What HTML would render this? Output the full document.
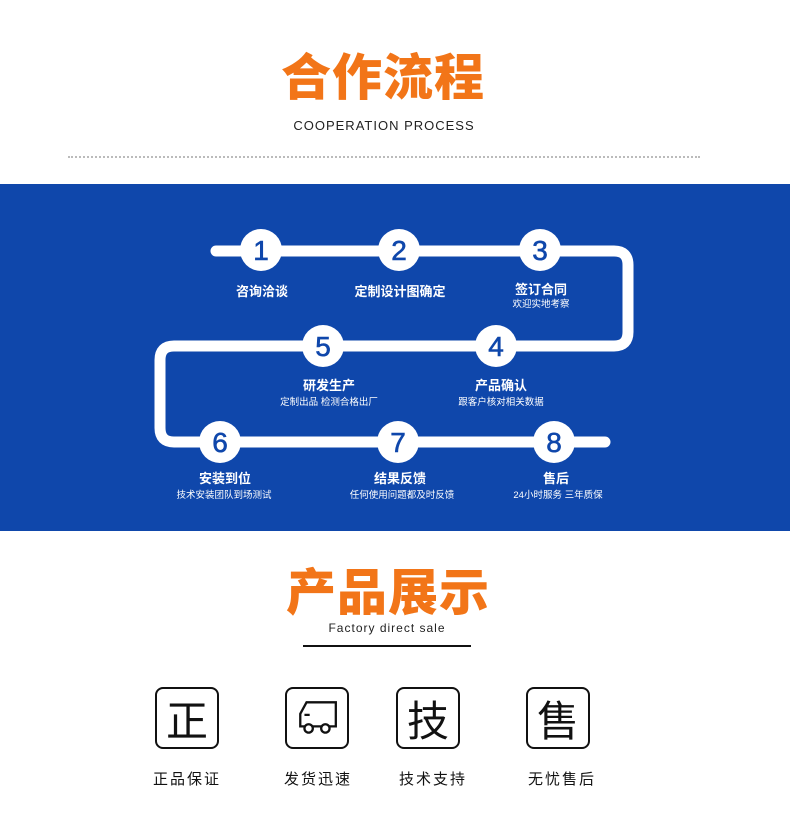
<!DOCTYPE html>
<html><head><meta charset="utf-8"><style>
body{margin:0;width:790px;height:829px;background:#fff;position:relative;overflow:hidden;font-family:"Liberation Sans","Noto Sans CJK SC",sans-serif}
.a{position:absolute;white-space:nowrap}
.c{transform:translateX(-50%)}
.t{font-size:50px;font-weight:900;color:#f27518;letter-spacing:1px}
.lab{color:#fff;font-size:13px;font-weight:bold}
.sub{color:#fff;font-size:9.5px}
.box{position:absolute;width:64px;height:62px;border:2.5px solid #111;border-radius:8px;box-sizing:border-box;top:687px;display:flex;align-items:center;justify-content:center;font-size:42px;color:#111}
.bl{font-size:15px;color:#111;letter-spacing:2px;top:768px}
</style></head><body>
<div class="a c t" style="left:383px;top:38px">合作流程</div>
<div class="a c" style="left:384px;top:118px;font-size:13px;letter-spacing:1px;color:#222">COOPERATION PROCESS</div>
<div class="a" style="left:68px;top:156px;width:632px;border-top:2px dotted #bbb"></div>
<div class="a" style="left:0;top:184px;width:790px;height:347px;background:#0f47ab"></div>
<svg class="a" style="left:0;top:0" width="790" height="829">
<path d="M216 251 H614 Q628 251 628 265 V332 Q628 346 614 346 H174 Q160 346 160 360 V428 Q160 442 174 442 H605" fill="none" stroke="#fff" stroke-width="11" stroke-linecap="round"/>
<g fill="#fff"><circle cx="261" cy="250" r="21"/><circle cx="399" cy="250" r="21"/><circle cx="540" cy="250" r="21"/><circle cx="323" cy="346" r="21"/><circle cx="496" cy="346" r="21"/><circle cx="220" cy="442" r="21"/><circle cx="398" cy="442" r="21"/><circle cx="554" cy="442" r="21"/></g>
<g fill="#0f47ab" font-family="Liberation Sans,sans-serif" font-size="28" text-anchor="middle" stroke="#0f47ab" stroke-width="0.6"><text x="261" y="260">1</text><text x="399" y="260">2</text><text x="540" y="260">3</text><text x="323" y="356">5</text><text x="496" y="356">4</text><text x="220" y="452">6</text><text x="398" y="452">7</text><text x="554" y="452">8</text></g>
</svg>
<div class="a c lab" style="left:262px;top:281px">咨询洽谈</div>
<div class="a c lab" style="left:400px;top:281px">定制设计图确定</div>
<div class="a c lab" style="left:541px;top:279px">签订合同</div>
<div class="a c sub" style="left:541px;top:296px">欢迎实地考察</div>
<div class="a c lab" style="left:329px;top:375px">研发生产</div>
<div class="a c sub" style="left:329px;top:394px">定制出品 检测合格出厂</div>
<div class="a c lab" style="left:501px;top:375px">产品确认</div>
<div class="a c sub" style="left:501px;top:394px">跟客户核对相关数据</div>
<div class="a c lab" style="left:225px;top:468px">安装到位</div>
<div class="a c sub" style="left:224px;top:487px">技术安装团队到场测试</div>
<div class="a c lab" style="left:400px;top:468px">结果反馈</div>
<div class="a c sub" style="left:402px;top:487px">任何使用问题都及时反馈</div>
<div class="a c lab" style="left:556px;top:468px">售后</div>
<div class="a c sub" style="left:558px;top:487px">24小时服务 三年质保</div>
<div class="a c t" style="left:388px;top:553px">产品展示</div>
<div class="a c" style="left:387px;top:621px;font-size:12px;letter-spacing:1px;color:#222">Factory direct sale</div>
<div class="a" style="left:303px;top:645px;width:168px;height:2px;background:#111"></div>
<div class="box" style="left:155px">正</div>
<div class="box" style="left:285px"><svg width="46" height="38" viewBox="0 0 44 36"><path d="M12 3 H40 V26 H6 V14 Z M10 15 H15" fill="none" stroke="#111" stroke-width="2.2"/><circle cx="14" cy="28" r="4" fill="#fff" stroke="#111" stroke-width="2.2"/><circle cx="30" cy="28" r="4" fill="#fff" stroke="#111" stroke-width="2.2"/></svg></div>
<div class="box" style="left:396px">技</div>
<div class="box" style="left:526px">售</div>
<div class="a c bl" style="left:187px">正品保证</div>
<div class="a c bl" style="left:318px">发货迅速</div>
<div class="a c bl" style="left:433px">技术支持</div>
<div class="a c bl" style="left:562px">无忧售后</div>
</body></html>
